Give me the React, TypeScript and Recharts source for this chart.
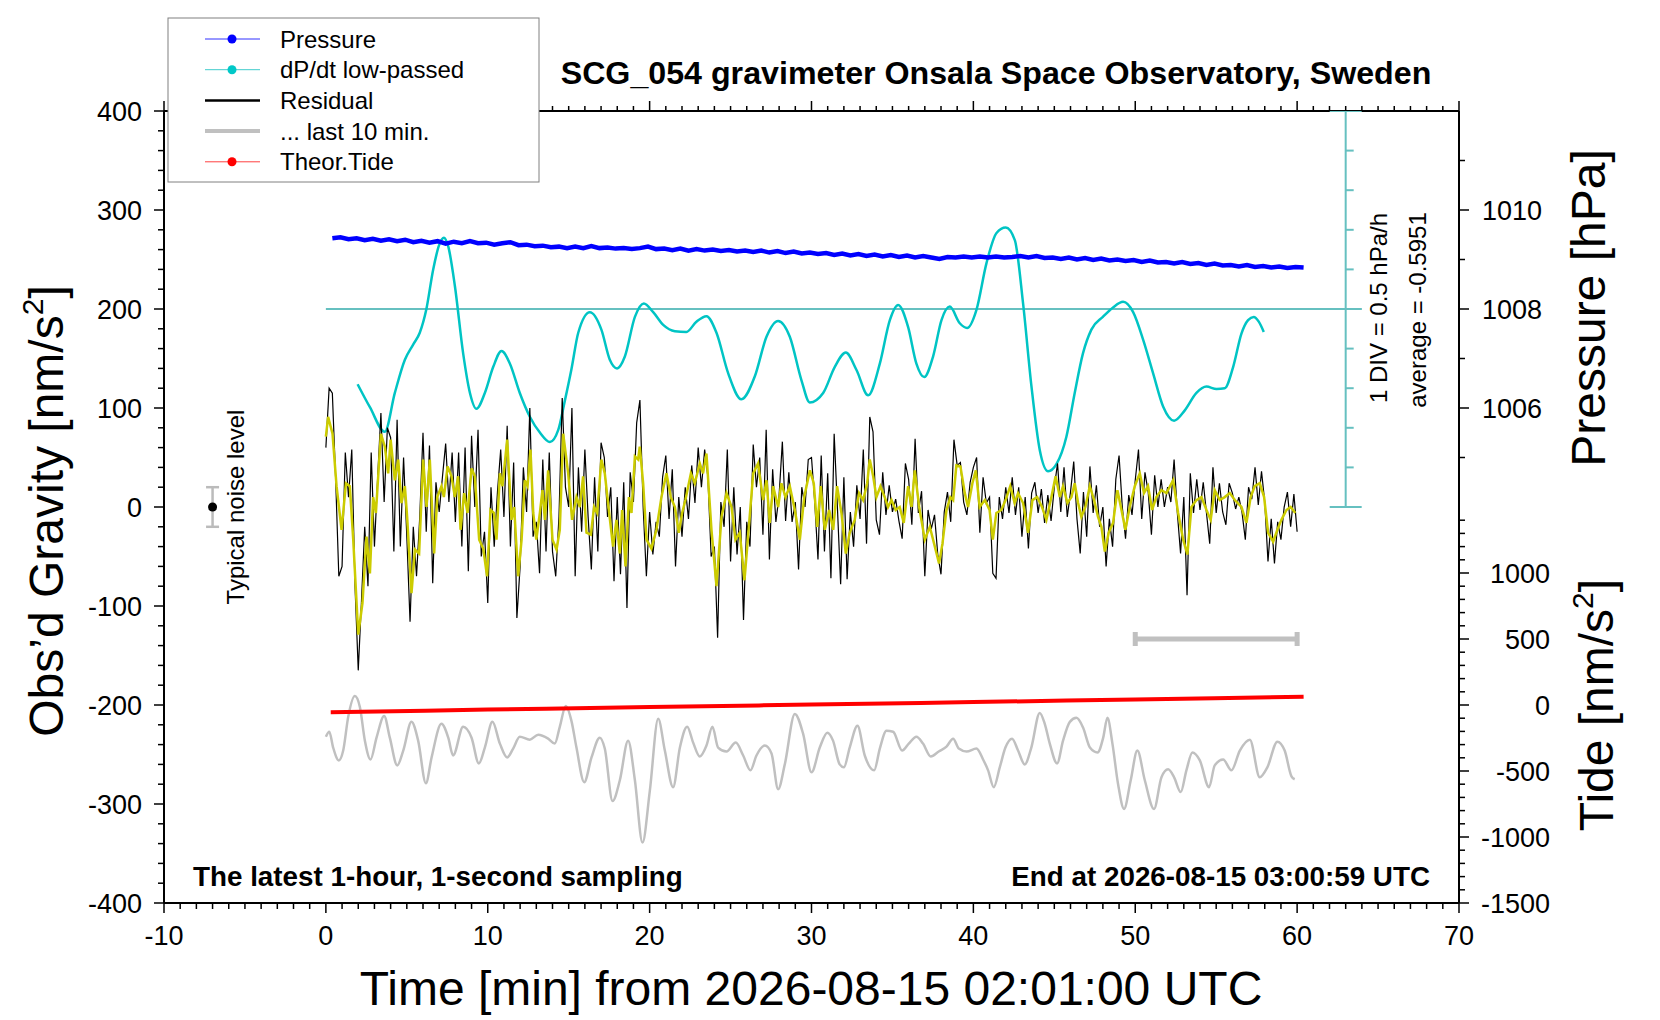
import React from 'react'
import { LineChart, Line, XAxis, YAxis } from 'recharts'

const W = 1660
const H = 1020
const FONT = '"Liberation Sans", Arial, Helvetica, sans-serif'

// axis ticks
const xMajorTicks = [-10, 0, 10, 20, 30, 40, 50, 60, 70]
const gravityMajorTicks = [-400, -300, -200, -100, 0, 100, 200, 300, 400]
const pressureTicks = [1005, 1006, 1007, 1008, 1009, 1010, 1011]
const pressureLabels = [1006, 1008, 1010]
const tideMajorTicks = [-1500, -1000, -500, 0, 500, 1000]
const tideTopTick = 1400

// pressure [hPa]  (t [min], p)
const pressureSeries: [number, number][] = [
  [0.4, 1009.43], [0.9, 1009.45], [1.4, 1009.41], [1.9, 1009.43], [2.4, 1009.39], [2.9, 1009.42],
  [3.4, 1009.38], [3.9, 1009.41], [4.4, 1009.37], [4.9, 1009.4], [5.4, 1009.35], [5.9, 1009.38],
  [6.4, 1009.34], [6.9, 1009.37], [7.4, 1009.32], [7.9, 1009.36], [8.4, 1009.33], [8.9, 1009.37],
  [9.4, 1009.33], [9.9, 1009.34], [10.4, 1009.3], [10.9, 1009.33], [11.4, 1009.35], [11.9, 1009.29],
  [12.4, 1009.3], [12.9, 1009.27], [13.4, 1009.28], [13.9, 1009.25], [14.4, 1009.26], [14.9, 1009.23],
  [15.4, 1009.26], [15.9, 1009.23], [16.4, 1009.27], [16.9, 1009.23], [17.4, 1009.24], [17.9, 1009.22],
  [18.4, 1009.23], [18.9, 1009.21], [19.4, 1009.23], [19.9, 1009.26], [20.4, 1009.21], [20.9, 1009.22],
  [21.4, 1009.19], [21.9, 1009.22], [22.4, 1009.18], [22.9, 1009.21], [23.4, 1009.18], [23.9, 1009.2],
  [24.4, 1009.17], [24.9, 1009.19], [25.4, 1009.16], [25.9, 1009.18], [26.4, 1009.15], [26.9, 1009.18],
  [27.4, 1009.14], [27.9, 1009.17], [28.4, 1009.13], [28.9, 1009.16], [29.4, 1009.12], [29.9, 1009.14],
  [30.4, 1009.11], [30.9, 1009.13], [31.4, 1009.09], [31.9, 1009.12], [32.4, 1009.08], [32.9, 1009.11],
  [33.4, 1009.07], [33.9, 1009.1], [34.4, 1009.06], [34.9, 1009.09], [35.4, 1009.05], [35.9, 1009.08],
  [36.4, 1009.04], [36.9, 1009.07], [37.4, 1009.04], [37.9, 1009.01], [38.4, 1009.05], [38.9, 1009.04],
  [39.4, 1009.06], [39.9, 1009.04], [40.4, 1009.06], [40.9, 1009.04], [41.4, 1009.06], [41.9, 1009.04],
  [42.4, 1009.05], [42.9, 1009.07], [43.4, 1009.04], [43.9, 1009.07], [44.4, 1009.03], [44.9, 1009.04],
  [45.4, 1009.01], [45.9, 1009.04], [46.4, 1009.0], [46.9, 1009.03], [47.4, 1008.99], [47.9, 1009.02],
  [48.4, 1008.98], [48.9, 1009.0], [49.4, 1008.97], [49.9, 1008.99], [50.4, 1008.95], [50.9, 1008.98],
  [51.4, 1008.94], [51.9, 1008.95], [52.4, 1008.92], [52.9, 1008.95], [53.4, 1008.91], [53.9, 1008.93],
  [54.4, 1008.89], [54.9, 1008.92], [55.4, 1008.88], [55.9, 1008.89], [56.4, 1008.86], [56.9, 1008.89],
  [57.4, 1008.85], [57.9, 1008.87], [58.4, 1008.84], [58.9, 1008.86], [59.4, 1008.83], [59.9, 1008.85],
  [60.4, 1008.84],
]

// dP/dt low-passed [hPa/h]
const dpdtSeries: [number, number][] = [
  [1.96, -0.95], [2.72, -1.24], [3.64, -1.55], [4.26, -1.06], [4.88, -0.64], [5.39, -0.45], [5.8, -0.3],
  [6.2, -0.01], [6.63, 0.5], [7.0, 0.81], [7.29, 0.9], [7.56, 0.79], [7.97, 0.29], [8.48, -0.56],
  [8.9, -1.06], [9.3, -1.26], [9.82, -1.06], [10.34, -0.73], [10.85, -0.53], [11.37, -0.69],
  [11.98, -1.06], [12.6, -1.36], [13.22, -1.56], [13.84, -1.68], [14.35, -1.53], [14.76, -1.16],
  [15.17, -0.76], [15.59, -0.3], [16.31, -0.04], [17.02, -0.26], [17.54, -0.64], [17.99, -0.75],
  [18.47, -0.6], [19.09, -0.1], [19.64, 0.07], [20.22, -0.04], [20.84, -0.2], [21.56, -0.28],
  [22.27, -0.29], [22.89, -0.16], [23.51, -0.09], [24.13, -0.3], [24.85, -0.81], [25.67, -1.14],
  [26.5, -0.85], [27.22, -0.35], [27.94, -0.15], [28.66, -0.35], [29.38, -0.9], [29.89, -1.18],
  [30.72, -1.06], [31.44, -0.73], [32.12, -0.55], [32.78, -0.77], [33.5, -1.09], [34.22, -0.69],
  [34.84, -0.14], [35.35, 0.05], [35.97, -0.23], [36.48, -0.69], [36.96, -0.86], [37.51, -0.6],
  [38.03, -0.14], [38.54, 0.03], [39.16, -0.18], [39.61, -0.24], [40.19, -0.01], [40.81, 0.58],
  [41.43, 0.96], [42.0, 1.03], [42.56, 0.87], [43.07, 0.07], [43.59, -0.98], [44.1, -1.78],
  [44.62, -2.05], [45.13, -1.96], [45.75, -1.61], [46.26, -1.06], [46.77, -0.56], [47.29, -0.26],
  [48.0, -0.1], [48.63, 0.02], [49.25, 0.09], [49.87, -0.04], [50.49, -0.39], [51.1, -0.81],
  [51.72, -1.23], [52.4, -1.41], [53.06, -1.28], [53.78, -1.06], [54.4, -0.98], [55.02, -1.01],
  [55.53, -1.0], [56.05, -0.73], [56.56, -0.31], [56.97, -0.14], [57.32, -0.1], [57.63, -0.16],
  [57.94, -0.29],
]
const divScale = [-2.5, -2, -1.5, -1, -0.5, 0, 0.5, 1, 1.5, 2, 2.5]
const divScaleAt = 63
const dpdtZeroLine: [number, number][] = [[0, 0], [64, 0]]

// residual [nm/s^2], one value every 0.2 min from t = 0
const residualStep = 0.2
const residualRaw = [
  60, 120, 115, 30, -70, -60, 55, 10, 58, -80, -165, -95, -20, -80, 55, -40, 30, 95, 5, 80,
  70, -45, 88, -40, 50, -30, -116, -20, -70, -10, 75, -25, 62, -77, 25, -5, 30, 64, 5, 55,
  -15, 55, -40, 60, -65, 72, 0, 78, -50, -25, -97, 20, -40, 15, 58, -10, 82, -40, 45, -112,
  -60, 40, -5, 100, -30, -15, -67, 48, -45, 55, -45, -70, -10, 110, 20, 0, 100, -70, 40, -25,
  58, -10, -63, 30, -45, 65, 50, -10, 20, -75, 10, -68, 25, -102, 35, 5, 85, 108, 0, -70,
  -5, -48, -15, -30, 30, 52, -12, 38, -60, 10, -30, 20, -12, 42, 4, 60, 20, 58, 30, -50,
  -40, -132, 5, -20, 58, -55, 20, -48, 0, -114, -15, -40, 63, 20, 50, -28, 78, -53, 38, -15,
  12, 66, -14, 35, -15, 5, -63, 20, 0, 48, 50, 5, -53, 52, -45, 34, -72, 74, 0, -78,
  30, -73, -5, -40, 22, -12, 58, -37, 91, 76, -13, -28, 35, -8, 22, -5, 8, -14, -32, 44,
  28, -18, 69, -6, 16, -70, -3, -22, -8, -48, -68, -5, 15, -15, 68, 42, 45, 5, -8, 25,
  40, 50, -26, 30, 4, 10, -67, -72, 10, -12, 20, -6, 30, -8, 20, -30, 10, -42, 14, 25,
  -6, 18, -16, 12, -14, 20, 44, -5, 40, -10, 15, 46, -12, -47, 15, -30, 41, -6, 22, -20,
  0, -60, -12, -40, 28, 52, 0, -32, 12, -8, 27, 58, -12, 35, 15, -28, 32, 0, 28, 0,
  20, 5, 48, -6, -47, 10, -89, 34, -6, 28, -3, 25, -6, -37, 40, -6, 24, -5, -18, 24,
  14, -2, 10, -6, -33, 20, 8, 40, 2, 36, 5, -55, -12, -57, -15, -33, 0, 15, -20, 13,
  -25,
]

// residual, smoothed (yellow)
const residualSmooth: [number, number][] = [
  [0, 71], [0.14, 91], [0.41, 74], [0.66, 21], [0.97, -23], [1.24, 24], [1.48, 21], [1.69, -33],
  [2.0, -129], [2.26, -97], [2.51, -30], [2.72, -67], [2.92, 10], [3.09, -6], [3.4, 74], [3.64, 61],
  [3.85, 34], [4.0, 68], [4.26, 27], [4.47, 48], [4.67, 4], [4.88, 21], [5.02, -10], [5.29, -87],
  [5.5, -43], [5.76, -47], [6.01, 48], [6.22, 0], [6.42, 48], [6.69, -47], [6.88, 10], [7.14, 21],
  [7.29, 10], [7.52, 41], [7.76, 31], [7.97, 10], [8.17, 31], [8.32, -23], [8.54, 14], [8.75, -6],
  [9.0, 39], [9.2, 31], [9.47, -33], [9.72, -42], [9.96, -70], [10.17, -3], [10.38, -6], [10.54, -33],
  [10.75, 34], [10.91, 21], [11.2, 68], [11.47, -13], [11.63, 0], [11.88, -70], [12.09, -33],
  [12.29, 27], [12.46, 21], [12.64, 58], [12.81, -6], [13.0, -33], [13.22, -6], [13.38, 17],
  [13.53, -13], [13.73, 37], [14.0, -33], [14.25, -43], [14.45, -23], [14.66, 74], [14.86, 48],
  [14.97, 34], [15.21, -13], [15.48, 10], [15.69, 0], [15.89, 31], [16.1, -26], [16.37, -28],
  [16.57, 0], [16.76, -6], [17.02, 48], [17.23, 34], [17.48, -3], [17.74, -40], [17.95, -13],
  [18.16, -47], [18.3, -3], [18.51, -60], [18.72, 10], [18.88, -6], [19.09, 51], [19.29, 48],
  [19.39, 61], [19.6, 24], [19.81, -33], [20.11, -42], [20.42, -23], [20.73, 10], [21.04, 34],
  [21.31, 10], [21.56, 0], [21.8, -26], [22.01, -6], [22.21, 7], [22.55, 34], [22.79, 24],
  [23.1, 44], [23.3, 34], [23.51, 54], [23.82, -23], [24.13, -80], [24.44, -10], [24.75, 14],
  [25.06, 0], [25.3, -33], [25.57, -26], [25.86, -74], [26.13, -20], [26.4, 34], [26.7, 44],
  [27.01, 7], [27.22, 27], [27.42, -16], [27.63, 21], [27.94, 0], [28.14, 24], [28.39, 10],
  [28.66, 21], [28.97, -3], [29.28, -33], [29.55, 10], [29.9, 37], [30.14, 24], [30.35, -20],
  [30.57, 21], [30.82, -23], [31.09, -3], [31.34, -23], [31.58, 21], [31.85, -6], [32.12, -47],
  [32.36, -26], [32.67, -13], [32.94, 14], [33.19, 7], [33.44, 24], [33.6, 48], [33.81, 31],
  [34.01, 10], [34.26, 21], [34.52, 10], [34.73, 0], [34.94, 7], [35.2, -3], [35.45, 0],
  [35.7, -16], [35.97, 21], [36.18, 0], [36.38, 37], [36.65, 0], [37.0, -33], [37.31, -20],
  [37.62, -40], [37.88, -57], [38.09, -37], [38.34, -3], [38.58, 10], [38.75, 7], [38.95, 42],
  [39.2, 41], [39.47, 14], [39.67, 0], [39.94, 24], [40.15, 37], [40.39, 0], [40.71, 7],
  [41.0, -3], [41.2, -33], [41.42, -6], [41.73, -3], [41.99, 7], [42.28, 21], [42.55, 4],
  [42.76, 14], [43.07, 4], [43.38, -26], [43.65, 7], [43.94, 10], [44.24, 0], [44.51, -13],
  [44.82, 10], [45.08, 31], [45.34, 10], [45.54, 21], [45.81, 4], [46.06, 10], [46.26, 24],
  [46.47, 4], [46.67, -10], [46.92, 0], [47.19, 21], [47.46, 7], [47.7, -10], [47.91, -20],
  [48.12, -45], [48.36, -26], [48.63, -16], [48.9, 17], [49.15, -3], [49.39, -23], [49.66, 0],
  [49.97, 21], [50.28, 34], [50.54, 14], [50.79, 21], [51.04, -3], [51.3, 10], [51.61, 17],
  [51.93, 14], [52.34, 27], [52.65, -6], [52.96, -33], [53.22, -48], [53.47, 0], [53.78, 7],
  [54.09, 10], [54.4, -3], [54.66, -13], [54.91, 17], [55.22, 7], [55.53, 10], [55.84, 14],
  [56.15, 7], [56.56, 0], [56.87, -16], [57.13, 10], [57.38, 21], [57.69, 24], [57.96, 10],
  [58.21, -26], [58.52, -35], [58.78, -23], [59.03, -13], [59.34, -3], [59.6, 0], [59.89, -6],
]

// grey trace at the bottom [nm/s^2]
const greyTrace: [number, number][] = [
  [0, -232], [0.21, -227], [0.45, -243], [0.8, -256], [1.07, -246], [1.38, -212], [1.79, -191],
  [2.1, -202], [2.41, -236], [2.76, -255], [3.13, -233], [3.6, -211], [3.95, -233], [4.41, -261],
  [4.78, -246], [5.29, -217], [5.7, -236], [6.18, -279], [6.53, -253], [7.14, -219], [7.56, -233],
  [7.86, -251], [8.48, -222], [9.0, -233], [9.45, -259], [9.82, -243], [10.29, -217], [10.75, -239],
  [11.2, -253], [11.57, -244], [11.98, -232], [12.6, -235], [13.12, -230], [13.73, -234],
  [14.14, -239], [14.45, -222], [14.82, -201], [15.17, -216], [15.48, -243], [15.96, -278],
  [16.41, -253], [16.92, -233], [17.23, -244], [17.71, -297], [18.16, -276], [18.67, -236],
  [19.09, -276], [19.56, -339], [20.01, -287], [20.53, -214], [20.94, -246], [21.45, -283],
  [21.87, -243], [22.32, -222], [22.69, -238], [23.1, -252], [23.51, -241], [23.88, -222],
  [24.23, -243], [24.75, -247], [25.32, -238], [25.78, -251], [26.23, -266], [26.6, -251],
  [27.12, -241], [27.53, -249], [27.94, -285], [28.35, -260], [28.97, -209], [29.48, -229],
  [30.0, -268], [30.51, -243], [30.98, -228], [31.33, -236], [31.74, -260], [32.0, -263],
  [32.36, -243], [32.84, -221], [33.29, -251], [33.87, -266], [34.22, -244], [34.63, -226],
  [35.04, -227], [35.6, -246], [36.01, -239], [36.48, -232], [36.89, -239], [37.37, -252],
  [37.86, -247], [38.34, -242], [38.75, -234], [39.1, -244], [39.58, -247], [40.19, -244],
  [40.6, -255], [40.91, -266], [41.26, -283], [41.63, -263], [41.98, -243], [42.39, -234],
  [42.76, -246], [43.17, -260], [43.58, -243], [44.1, -208], [44.41, -219], [44.72, -239],
  [45.17, -259], [45.54, -236], [45.96, -217], [46.37, -213], [46.78, -223], [47.2, -243],
  [47.67, -248], [48.02, -233], [48.28, -213], [48.59, -239], [48.94, -280], [49.31, -305],
  [49.72, -276], [50.13, -246], [50.59, -276], [51.16, -305], [51.62, -273], [52.03, -265],
  [52.4, -273], [52.81, -288], [53.16, -266], [53.53, -248], [53.99, -256], [54.56, -283],
  [54.91, -261], [55.43, -255], [55.94, -266], [56.46, -246], [57.08, -235], [57.69, -273],
  [58.16, -263], [58.78, -237], [59.23, -246], [59.65, -272], [59.85, -275],
]

// theoretical tide [nm/s^2]
const tideSeries: [number, number][] = [
  [0.3, -55], [10, -35], [20, -15], [30, 3], [40, 22], [50, 42], [60.4, 63],
]

// last 10 min marker (tide units) and typical noise level (gravity units)
const lastTenMin = { from: 50, to: 60, level: 500 }
const noiseLevel = { at: -7, center: 0, half: 20 }

const xTicks: number[] = []
for (let v = xMajorTicks[0]; v <= xMajorTicks[xMajorTicks.length - 1]; v++) xTicks.push(v)
const gTicks: number[] = []
for (let v = gravityMajorTicks[0]; v <= gravityMajorTicks[gravityMajorTicks.length - 1]; v += 20) gTicks.push(v)

// right axis is the tide axis; pressure labels are placed at their tide-equivalent position
const tideOfPressure = (p: number) => (p - 1000) * 375
const pressureOfTide = (t: number) => 1000 + t / 375
const tideTicks: number[] = []
for (let v = tideMajorTicks[0]; v <= tideTopTick; v += 100) tideTicks.push(v)
const rightTicks = [...tideTicks, ...pressureTicks.map(tideOfPressure)]

const pairs = (rows: [number, number][]) => rows.map(([t, v]) => ({ t, v }))

const frame = { stroke: '#000', strokeWidth: 2 }
const tickStroke = { stroke: '#000', strokeWidth: 1.5 }
const tealScale = '#66c0c0'

function BottomTick(props: any) {
  const { x, y, payload } = props
  const major = xMajorTicks.includes(payload.value)
  return (
    <g>
      <line x1={x} y1={y} x2={x} y2={y + (major ? 10 : 6)} {...tickStroke} />
      {major && (
        <text x={x} y={y + 42} textAnchor="middle" fontSize={27} fontFamily={FONT} fill="#000">
          {payload.value}
        </text>
      )}
    </g>
  )
}

function TopTick(props: any) {
  const { x, y, payload } = props
  const major = xMajorTicks.includes(payload.value)
  return <line x1={x} y1={y} x2={x} y2={y - (major ? 10 : 5)} {...tickStroke} />
}

function LeftTick(props: any) {
  const { x, y, payload } = props
  const major = gravityMajorTicks.includes(payload.value)
  return (
    <g>
      <line x1={x - (major ? 10 : 6)} y1={y} x2={x} y2={y} {...tickStroke} />
      {major && (
        <text x={x - 22} y={y + 9.5} textAnchor="end" fontSize={27} fontFamily={FONT} fill="#000">
          {payload.value}
        </text>
      )}
    </g>
  )
}

function RightTick(props: any) {
  const { x, y, payload } = props
  const v = payload.value
  if (v > tideTopTick + 100) {
    const p = Math.round(pressureOfTide(v))
    const major = pressureLabels.includes(p)
    return (
      <g>
        <line x1={x} y1={y} x2={x + (major ? 10 : 6)} y2={y} {...tickStroke} />
        {major && (
          <text x={x + 23} y={y + 9.5} textAnchor="start" fontSize={27} fontFamily={FONT} fill="#000">
            {p}
          </text>
        )}
      </g>
    )
  }
  const major = tideMajorTicks.includes(v)
  return (
    <g>
      <line x1={x} y1={y} x2={x + (major ? 10 : 6)} y2={y} {...tickStroke} />
      {major && (
        <text x={x + 91} y={y + 9.5} textAnchor="end" fontSize={27} fontFamily={FONT} fill="#000">
          {v}
        </text>
      )}
    </g>
  )
}

const legendRows = [
  { label: 'Pressure', color: '#3030ff', dot: '#0000ff', width: 1 },
  { label: 'dP/dt low-passed', color: '#40cccc', dot: '#00c8c8', width: 1 },
  { label: 'Residual', color: '#000000', dot: '', width: 2.5 },
  { label: '... last 10 min.', color: '#c0c0c0', dot: '', width: 4 },
  { label: 'Theor.Tide', color: '#ff4040', dot: '#ff0000', width: 1 },
]

function Overlay() {
  const txt = { fontFamily: FONT, fill: '#000' }
  return (
    <svg width={W} height={H} style={{ position: 'absolute', left: 0, top: 0, pointerEvents: 'none' }}>
      <text x={996} y={84} textAnchor="middle" fontSize={32.2} fontWeight="bold" {...txt}>
        SCG_054 gravimeter Onsala Space Observatory, Sweden
      </text>

      <rect x={168} y={18} width={371} height={164} fill="#fff" stroke="#808080" strokeWidth={1} />
      {legendRows.map((r, i) => {
        const cy = 39 + i * 30.7
        return (
          <g key={r.label}>
            <line x1={205} y1={cy} x2={260} y2={cy} stroke={r.color} strokeWidth={r.width} />
            {r.dot && <circle cx={232} cy={cy} r={4.5} fill={r.dot} />}
            <text x={280} y={cy + 8.5} fontSize={24} {...txt}>
              {r.label}
            </text>
          </g>
        )
      })}

      <text x={63} y={511} transform="rotate(-90 63 511)" textAnchor="middle" fontSize={48} {...txt}>
        Obs’d Gravity [nm/s<tspan fontSize={30} dy={-20}>2</tspan>
        <tspan dy={20}>]</tspan>
      </text>
      <text x={1605} y={308} transform="rotate(-90 1605 308)" textAnchor="middle" fontSize={48} {...txt}>
        Pressure [hPa]
      </text>
      <text x={1613} y={705} transform="rotate(-90 1613 705)" textAnchor="middle" fontSize={48} {...txt}>
        Tide [nm/s<tspan fontSize={30} dy={-20}>2</tspan>
        <tspan dy={20}>]</tspan>
      </text>
      <text x={811} y={1005} textAnchor="middle" fontSize={48} {...txt}>
        Time [min] from 2026-08-15 02:01:00 UTC
      </text>

      <text x={193} y={886} fontSize={27.8} fontWeight="bold" {...txt}>
        The latest 1-hour, 1-second sampling
      </text>
      <text x={1430} y={886} textAnchor="end" fontSize={27.8} fontWeight="bold" {...txt}>
        End at 2026-08-15 03:00:59 UTC
      </text>

      <text x={1387} y={308} transform="rotate(-90 1387 308)" textAnchor="middle" fontSize={24} {...txt}>
        1 DIV = 0.5 hPa/h
      </text>
      <text x={1426} y={310} transform="rotate(-90 1426 310)" textAnchor="middle" fontSize={24} {...txt}>
        average = -0.5951
      </text>
      <text x={244} y={507} transform="rotate(-90 244 507)" textAnchor="middle" fontSize={24} {...txt}>
        Typical noise level
      </text>
    </svg>
  )
}

export default function App() {
  const residualData = residualRaw.map((v, i) => ({ t: Math.round(i * residualStep * 100) / 100, v }))
  const divData = divScale.map((v) => ({ t: divScaleAt, v }))
  const noiseData = [
    { t: noiseLevel.at, v: noiseLevel.center - noiseLevel.half },
    { t: noiseLevel.at, v: noiseLevel.center },
    { t: noiseLevel.at, v: noiseLevel.center + noiseLevel.half },
  ]
  const lastTenData = [
    { t: lastTenMin.from, v: lastTenMin.level },
    { t: lastTenMin.to, v: lastTenMin.level },
  ]

  const divDot = (p: any) => {
    const edge = Math.abs(p.payload.v) === 2.5
    if (p.payload.v === 0) return <g key={p.index} />
    return (
      <line
        key={p.index}
        x1={edge ? p.cx - 16 : p.cx}
        x2={edge ? p.cx + 16 : p.cx + 8}
        y1={p.cy}
        y2={p.cy}
        stroke={tealScale}
        strokeWidth={2}
      />
    )
  }
  const noiseDot = (p: any) =>
    p.index === 1 ? (
      <circle key={p.index} cx={p.cx} cy={p.cy} r={4.5} fill="#000" />
    ) : (
      <line key={p.index} x1={p.cx - 6.5} x2={p.cx + 6.5} y1={p.cy} y2={p.cy} stroke="#bbbbbb" strokeWidth={2.5} />
    )
  const capDot = (p: any) => (
    <rect key={p.index} x={p.cx - 2.5} y={p.cy - 7} width={5} height={14} fill="#c0c0c0" />
  )

  return (
    <div style={{ position: 'absolute', left: 0, top: 0, width: W, height: H, background: '#fff' }}>
      <LineChart width={W} height={H} margin={{ top: 91, right: 0, bottom: 0, left: 0 }}>
        <XAxis
          xAxisId="b"
          dataKey="t"
          type="number"
          domain={[-10, 70]}
          ticks={xTicks}
          interval={0}
          height={117}
          tickSize={0}
          tickMargin={0}
          tickLine={false}
          tick={(p: any) => <BottomTick {...p} />}
          axisLine={frame}
          allowDataOverflow
        />
        <XAxis
          xAxisId="top"
          orientation="top"
          dataKey="t"
          type="number"
          domain={[-10, 70]}
          ticks={xTicks}
          interval={0}
          height={20}
          tickSize={0}
          tickMargin={0}
          tickLine={false}
          tick={(p: any) => <TopTick {...p} />}
          axisLine={frame}
          allowDataOverflow
        />
        <YAxis
          yAxisId="g"
          type="number"
          domain={[-400, 400]}
          ticks={gTicks}
          interval={0}
          width={164}
          tickSize={0}
          tickMargin={0}
          tickLine={false}
          tick={(p: any) => <LeftTick {...p} />}
          axisLine={frame}
          allowDataOverflow
        />
        <YAxis
          yAxisId="tide"
          orientation="right"
          type="number"
          domain={[-1500, 4500]}
          ticks={rightTicks}
          interval={0}
          width={201}
          tickSize={0}
          tickMargin={0}
          tickLine={false}
          tick={(p: any) => <RightTick {...p} />}
          axisLine={frame}
          allowDataOverflow
        />
        <YAxis yAxisId="p" hide width={0} type="number" domain={[996, 1012]} allowDataOverflow />
        <YAxis yAxisId="dp" hide width={0} type="number" domain={[-7.5, 2.5]} allowDataOverflow />

        {/* dP/dt scale */}
        <Line
          xAxisId="top"
          yAxisId="dp"
          data={divData}
          dataKey="v"
          stroke={tealScale}
          strokeWidth={2}
          dot={divDot}
          activeDot={false}
          isAnimationActive={false}
        />
        <Line
          xAxisId="top"
          yAxisId="dp"
          data={pairs(dpdtZeroLine)}
          dataKey="v"
          stroke={tealScale}
          strokeWidth={2}
          dot={false}
          activeDot={false}
          isAnimationActive={false}
        />
        <Line
          xAxisId="b"
          yAxisId="dp"
          data={pairs(dpdtSeries)}
          dataKey="v"
          type="monotone"
          stroke="#00c4c4"
          strokeWidth={2.5}
          dot={false}
          activeDot={false}
          isAnimationActive={false}
        />
        <Line
          xAxisId="b"
          yAxisId="p"
          data={pairs(pressureSeries)}
          dataKey="v"
          stroke="#0000ff"
          strokeWidth={4.5}
          dot={false}
          activeDot={false}
          isAnimationActive={false}
        />
        <Line
          xAxisId="b"
          yAxisId="g"
          data={pairs(greyTrace)}
          dataKey="v"
          type="monotone"
          stroke="#c0c0c0"
          strokeWidth={2.5}
          dot={false}
          activeDot={false}
          isAnimationActive={false}
        />
        <Line
          xAxisId="b"
          yAxisId="tide"
          data={pairs(tideSeries)}
          dataKey="v"
          type="monotone"
          stroke="#ff0000"
          strokeWidth={4}
          dot={false}
          activeDot={false}
          isAnimationActive={false}
        />
        <Line
          xAxisId="b"
          yAxisId="g"
          data={residualData}
          dataKey="v"
          stroke="#000"
          strokeWidth={1.2}
          dot={false}
          activeDot={false}
          isAnimationActive={false}
        />
        <Line
          xAxisId="b"
          yAxisId="g"
          data={pairs(residualSmooth)}
          dataKey="v"
          stroke="#cccc00"
          strokeWidth={2.5}
          dot={false}
          activeDot={false}
          isAnimationActive={false}
        />
        <Line
          xAxisId="b"
          yAxisId="g"
          data={noiseData}
          dataKey="v"
          stroke="#bbbbbb"
          strokeWidth={2.5}
          dot={noiseDot}
          activeDot={false}
          isAnimationActive={false}
        />
        <Line
          xAxisId="b"
          yAxisId="tide"
          data={lastTenData}
          dataKey="v"
          stroke="#c0c0c0"
          strokeWidth={5}
          dot={capDot}
          activeDot={false}
          isAnimationActive={false}
        />
      </LineChart>
      <Overlay />
    </div>
  )
}
